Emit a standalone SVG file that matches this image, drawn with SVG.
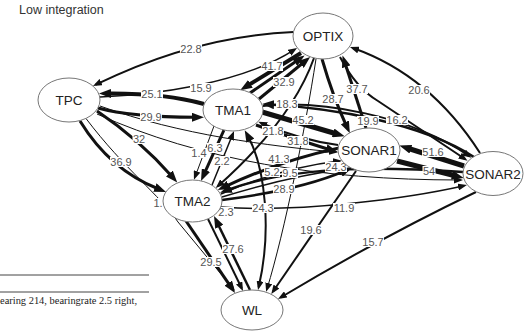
<svg xmlns="http://www.w3.org/2000/svg" width="529" height="331" viewBox="0 0 529 331">
<style>
.e{fill:none;stroke:#111}
.lb rect{fill:#fff}
.lb text{font-family:"Liberation Sans",Arial,sans-serif;font-size:11px;fill:#555;text-anchor:middle}
.nd ellipse{fill:#fff;stroke:#777;stroke-width:1}
.nd text{font-family:"Liberation Sans",Arial,sans-serif;font-size:13.5px;fill:#222;text-anchor:middle}
.title{font-family:"Liberation Sans",Arial,sans-serif;font-size:12.5px;fill:#333}
.foot{font-family:"Liberation Serif","Times New Roman",serif;font-size:10px;fill:#222}
</style>
<defs>
<marker id="s" viewBox="0 0 9 7" refX="6" refY="3.5" markerWidth="9" markerHeight="7" markerUnits="userSpaceOnUse" orient="auto"><path d="M0,0L9,3.5L0,7z" fill="#111"/></marker>
<marker id="ss" viewBox="0 0 9 7" refX="6" refY="3.5" markerWidth="9" markerHeight="7" markerUnits="userSpaceOnUse" orient="auto-start-reverse"><path d="M0,0L9,3.5L0,7z" fill="#111"/></marker>
<marker id="l" viewBox="0 0 12 9" refX="4" refY="4.5" markerWidth="12" markerHeight="9" markerUnits="userSpaceOnUse" orient="auto"><path d="M0,0L12,4.5L0,9z" fill="#111"/></marker>
</defs>
<rect width="529" height="331" fill="#fff"/>
<text class="title" x="19" y="14">Low integration</text>
<g id="footer">
<line x1="0" y1="275" x2="149" y2="275" stroke="#444" stroke-width="1"/>
<line x1="0" y1="292" x2="149" y2="292" stroke="#444" stroke-width="1"/>
<text class="foot" x="0" y="304" textLength="137" lengthAdjust="spacingAndGlyphs">earing 214, bearingrate 2.5 right,</text>
</g>
<g id="connectors">
<path class="e" stroke-width="2" marker-end="url(#s)" d="M293.5,32 Q195,36 95.7,84.7"/>
<path class="e" stroke-width="4" marker-end="url(#l)" d="M204,104 Q165,93 107,93.5"/>
<path class="e" stroke-width="1.5" marker-end="url(#s)" d="M100,97 C150,95 240,85 294.5,49.6"/>
<path class="e" stroke-width="3" marker-end="url(#l)" d="M98,108 Q130,117 196,117.3"/>
<path class="e" stroke-width="3" marker-end="url(#l)" d="M80,121 Q110,170 158.6,189"/>
<path class="e" stroke-width="3" marker-end="url(#l)" d="M97,111 Q140,140 172,176.5"/>
<path class="e" stroke-width="1" marker-end="url(#s)" d="M86,118.5 C125,170 160,195 178,222 L233,288.5"/>
<path class="e" stroke-width="1" marker-end="url(#s)" d="M100,106 C180,135 270,146 335,152"/>
<path class="e" stroke-width="1" marker-end="url(#s)" d="M97,114 C200,160 320,180 460,180"/>
<path class="e" stroke-width="4" marker-end="url(#l)" d="M301,53 L247,86"/>
<path class="e" stroke-width="3" marker-end="url(#l)" d="M250,93 L298,60"/>
<path class="e" stroke-width="3" marker-end="url(#l)" d="M259,99 L304,62"/>
<path class="e" stroke-width="2" marker-end="url(#s)" d="M314,58 Q292,120 218,186"/>
<path class="e" stroke-width="5" marker-end="url(#l)" d="M262,112 L337,134"/>
<path class="e" stroke-width="2" marker-end="url(#s)" d="M263,106 C320,100 410,115 469,156"/>
<path class="e" stroke-width="2.5" marker-end="url(#l)" d="M474,157 C420,122 330,108 270,104.5"/>
<path class="e" stroke-width="2" marker-end="url(#s)" d="M340,57 Q356,88 378,101 L465,159"/>
<path class="e" stroke-width="3" marker-end="url(#l)" d="M366,128 L345,63"/>
<path class="e" stroke-width="3" marker-end="url(#l)" d="M322,59 Q333,97 346.5,126"/>
<path class="e" stroke-width="2" marker-end="url(#s)" d="M480,153 Q430,75 352.8,48"/>
<path class="e" stroke-width="5" marker-end="url(#l)" d="M464,166 L407,148"/>
<path class="e" stroke-width="5" marker-end="url(#l)" d="M397,161 L456,176"/>
<path class="e" stroke-width="3" marker-end="url(#l)" d="M339,148 Q282,160 225,186.6"/>
<path class="e" stroke-width="2.5" marker-end="url(#l)" d="M463,172 C400,168 300,163 227.5,190"/>
<path class="e" stroke-width="1.5" marker-end="url(#s)" d="M221,194 Q280,168 339,161"/>
<path class="e" stroke-width="1.5" d="M222,197 Q290,176 350,168"/>
<path class="e" stroke-width="2.5" marker-end="url(#l)" d="M222,200 Q300,190 344.6,171"/>
<path class="e" stroke-width="1.5" marker-end="url(#s)" d="M221,207 C300,213 410,198 464,185.7"/>
<path class="e" stroke-width="2" marker-start="url(#ss)" marker-end="url(#l)" d="M258.7,287 C272,230 265,168 248.5,137.2"/>
<path class="e" stroke-width="1" marker-end="url(#s)" d="M316,59 C305,130 285,230 267,289"/>
<path class="e" stroke-width="2" marker-end="url(#s)" d="M356,171 L273,291.5"/>
<path class="e" stroke-width="2" marker-end="url(#s)" d="M476,192 Q380,238 280.6,297.5"/>
<path class="e" stroke-width="3" marker-end="url(#l)" d="M186,221 L230.5,286.4"/>
<path class="e" stroke-width="2" marker-end="url(#s)" d="M208,219 L241.7,288.3"/>
<path class="e" stroke-width="2.5" marker-end="url(#l)" d="M250,290 L217.5,223.2"/>
<path class="e" stroke-width="1" marker-end="url(#s)" d="M214,126 L195,177"/>
<path class="e" stroke-width="3" marker-end="url(#l)" d="M224,130 L204.3,173.7"/>
<path class="e" stroke-width="1.5" marker-end="url(#s)" d="M212,185 L232.9,133.8"/>
<path class="e" stroke-width="2" marker-end="url(#s)" d="M338,145 Q300,140 261,123"/>
<path class="e" stroke-width="3" marker-end="url(#l)" d="M256,125 Q298,140 330,149.7"/>
<g class="lb" transform="translate(191,49)"><rect x="-11" y="-5" width="22" height="10"/><text y="4">22.8</text></g>
<g class="lb" transform="translate(152,94)"><rect x="-11" y="-5" width="22" height="10"/><text y="4">25.1</text></g>
<g class="lb" transform="translate(201,88)"><rect x="-11" y="-5" width="22" height="10"/><text y="4">15.9</text></g>
<g class="lb" transform="translate(151,117)"><rect x="-11" y="-5" width="22" height="10"/><text y="4">29.9</text></g>
<g class="lb" transform="translate(121,162)"><rect x="-11" y="-5" width="22" height="10"/><text y="4">36.9</text></g>
<g class="lb" transform="translate(139,139)"><rect x="-6.5" y="-5" width="13" height="10"/><text y="4">32</text></g>
<g class="lb" transform="translate(158,203)"><rect x="-5" y="-5" width="10" height="10"/><text y="4">1.</text></g>
<g class="lb" transform="translate(272,66)"><rect x="-11" y="-5" width="22" height="10"/><text y="4">41.7</text></g>
<g class="lb" transform="translate(284,82)"><rect x="-11" y="-5" width="22" height="10"/><text y="4">32.9</text></g>
<g class="lb" transform="translate(287,104)"><rect x="-11" y="-5" width="22" height="10"/><text y="4">18.3</text></g>
<g class="lb" transform="translate(303,120)"><rect x="-11" y="-5" width="22" height="10"/><text y="4">45.2</text></g>
<g class="lb" transform="translate(333,99)"><rect x="-11" y="-5" width="22" height="10"/><text y="4">28.7</text></g>
<g class="lb" transform="translate(357,89)"><rect x="-11" y="-5" width="22" height="10"/><text y="4">37.7</text></g>
<g class="lb" transform="translate(419,90)"><rect x="-11" y="-5" width="22" height="10"/><text y="4">20.6</text></g>
<g class="lb" transform="translate(368,121)"><rect x="-11" y="-5" width="22" height="10"/><text y="4">19.9</text></g>
<g class="lb" transform="translate(397,120)"><rect x="-11" y="-5" width="22" height="10"/><text y="4">16.2</text></g>
<g class="lb" transform="translate(433,152)"><rect x="-11" y="-5" width="22" height="10"/><text y="4">51.6</text></g>
<g class="lb" transform="translate(429,171)"><rect x="-6.5" y="-5" width="13" height="10"/><text y="4">54</text></g>
<g class="lb" transform="translate(273,131)"><rect x="-11" y="-5" width="22" height="10"/><text y="4">21.8</text></g>
<g class="lb" transform="translate(298,141)"><rect x="-11" y="-5" width="22" height="10"/><text y="4">31.8</text></g>
<g class="lb" transform="translate(199,153)"><rect x="-8" y="-5" width="16" height="10"/><text y="4">1.4</text></g>
<g class="lb" transform="translate(215,148)"><rect x="-8" y="-5" width="16" height="10"/><text y="4">6.3</text></g>
<g class="lb" transform="translate(222,161)"><rect x="-8" y="-5" width="16" height="10"/><text y="4">2.2</text></g>
<g class="lb" transform="translate(279,159)"><rect x="-11" y="-5" width="22" height="10"/><text y="4">41.3</text></g>
<g class="lb" transform="translate(272,172)"><rect x="-8" y="-5" width="16" height="10"/><text y="4">5.2</text></g>
<g class="lb" transform="translate(290,173)"><rect x="-8" y="-5" width="16" height="10"/><text y="4">9.5</text></g>
<g class="lb" transform="translate(336,167)"><rect x="-11" y="-5" width="22" height="10"/><text y="4">24.3</text></g>
<g class="lb" transform="translate(284,189)"><rect x="-11" y="-5" width="22" height="10"/><text y="4">28.9</text></g>
<g class="lb" transform="translate(263,208)"><rect x="-11" y="-5" width="22" height="10"/><text y="4">24.3</text></g>
<g class="lb" transform="translate(344,208)"><rect x="-11" y="-5" width="22" height="10"/><text y="4">11.9</text></g>
<g class="lb" transform="translate(226,212)"><rect x="-8" y="-5" width="16" height="10"/><text y="4">2.3</text></g>
<g class="lb" transform="translate(311,230)"><rect x="-11" y="-5" width="22" height="10"/><text y="4">19.6</text></g>
<g class="lb" transform="translate(233,249)"><rect x="-11" y="-5" width="22" height="10"/><text y="4">27.6</text></g>
<g class="lb" transform="translate(211,262)"><rect x="-11" y="-5" width="22" height="10"/><text y="4">29.5</text></g>
<g class="lb" transform="translate(373,242)"><rect x="-11" y="-5" width="22" height="10"/><text y="4">15.7</text></g>
</g>
<g id="node-TPC" class="nd"><ellipse cx="69" cy="100" rx="31" ry="22"/><text x="69" y="105">TPC</text></g>
<g id="node-OPTIX" class="nd"><ellipse cx="323" cy="36" rx="30" ry="23"/><text x="323" y="41">OPTIX</text></g>
<g id="node-TMA1" class="nd"><ellipse cx="233" cy="110" rx="30" ry="21"/><text x="233" y="115">TMA1</text></g>
<g id="node-SONAR1" class="nd"><ellipse cx="369" cy="150" rx="31" ry="22"/><text x="369" y="155">SONAR1</text></g>
<g id="node-SONAR2" class="nd"><ellipse cx="493" cy="173.5" rx="30" ry="22"/><text x="493" y="178.5">SONAR2</text></g>
<g id="node-TMA2" class="nd"><ellipse cx="192.5" cy="201" rx="29.5" ry="21"/><text x="192.5" y="206">TMA2</text></g>
<g id="node-WL" class="nd"><ellipse cx="252" cy="310" rx="31" ry="20"/><text x="252" y="315">WL</text></g>
</svg>
